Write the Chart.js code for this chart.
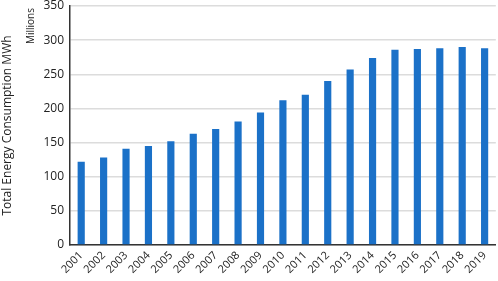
<!DOCTYPE html>
<html>
<head>
<meta charset="utf-8">
<script src="https://cdn.jsdelivr.net/npm/chart.js@4"></script>
<style>
  html, body { margin: 0; padding: 0; background: #fff; }
  #wrap { width: 498px; height: 281px; }
</style>
</head>
<body>
<div id="wrap"><canvas id="energyChart" width="498" height="281"></canvas></div>
<script>
// years on the x axis
const years = ['2001', '2002', '2003', '2004', '2005', '2006', '2007', '2008', '2009', '2010',
               '2011', '2012', '2013', '2014', '2015', '2016', '2017', '2018', '2019'];
// total energy consumption, millions of MWh
const consumption = [122, 128, 141, 145, 152, 163, 170, 181, 194, 212,
                     220, 240, 257, 274, 286, 287, 288, 290, 288];
const yTicks = [0, 50, 100, 150, 200, 250, 300, 350];

const fontFamily = "'Open Sans', 'Noto Sans', sans-serif";

// small "Millions" unit label next to the top of the y axis
const unitLabel = {
    id: 'unitLabel',
    afterDraw(chart) {
        const ctx = chart.ctx;
        const y = chart.scales.y;
        ctx.save();
        ctx.translate(y.left + 31, chart.chartArea.top + 20);
        ctx.rotate(-Math.PI / 2);
        ctx.font = '10px ' + fontFamily;
        ctx.fillStyle = '#222';
        ctx.textAlign = 'center';
        ctx.textBaseline = 'middle';
        ctx.fillText('Millions', 0, 0);
        ctx.restore();
    }
};

const ctx = document.getElementById('energyChart').getContext('2d');
new Chart(ctx, {
    type: 'bar',
    data: {
        labels: years,
        datasets: [{
            label: 'Total Energy Consumption MWh',
            data: consumption,
            backgroundColor: '#1b71c8',
            categoryPercentage: 1,
            barPercentage: 0.32
        }]
    },
    options: {
        responsive: false,
        animation: false,
        layout: { padding: { top: 6, right: 2, left: 0, bottom: 0 } },
        plugins: {
            legend: { display: false },
            tooltip: { enabled: false }
        },
        scales: {
            x: {
                grid: { display: false, drawTicks: false },
                border: { color: '#333', width: 1.5 },
                ticks: {
                    color: '#222',
                    font: { family: fontFamily, size: 11 },
                    autoSkip: false,
                    minRotation: 45,
                    maxRotation: 45,
                    padding: 4
                },
                afterFit(scale) { scale.height = 36; }
            },
            y: {
                min: 0,
                max: 350,
                afterBuildTicks(scale) { scale.ticks = yTicks.map(v => ({ value: v })); },
                grid: { color: '#dcdcdc', lineWidth: 1.5, drawTicks: false },
                border: { color: '#333', width: 1.5 },
                ticks: {
                    color: '#222',
                    font: { family: fontFamily, size: 12 },
                    padding: 6
                },
                title: {
                    display: true,
                    text: 'Total Energy Consumption MWh',
                    color: '#222',
                    font: { family: fontFamily, size: 12 },
                    padding: { top: 0, bottom: 0 }
                },
                afterFit(scale) {
                    scale.width = 70;
                    scale.paddingTop = 0;
                }
            }
        }
    },
    plugins: [unitLabel]
});
</script>
</body>
</html>
